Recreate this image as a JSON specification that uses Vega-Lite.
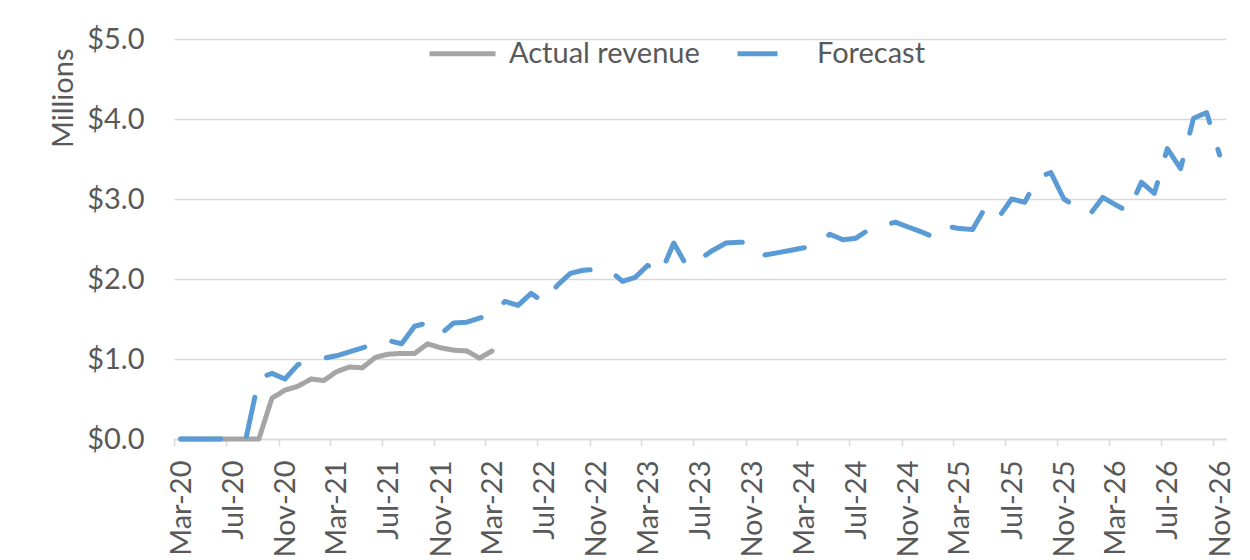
{
  "$schema": "https://vega.github.io/schema/vega-lite/v6.json",
  "width": 1052,
  "height": 400,
  "autosize": {"type": "none"},
  "padding": {"left": 174, "top": 39, "right": 24, "bottom": 121},
  "background": "white",
  "config": {"view": {"stroke": null}, "font": "Lato"},
  "data": {
    "format": {"parse": {"month": "date:'%Y-%m'"}},
    "values": [
      {"month": "2020-03", "Actual revenue": 0, "Forecast": 0},
      {"month": "2020-04", "Actual revenue": 0, "Forecast": 0},
      {"month": "2020-05", "Actual revenue": 0, "Forecast": 0},
      {"month": "2020-06", "Actual revenue": 0, "Forecast": 0},
      {"month": "2020-07", "Actual revenue": 0, "Forecast": 0},
      {"month": "2020-08", "Actual revenue": 0, "Forecast": 0},
      {"month": "2020-09", "Actual revenue": 0, "Forecast": 0.76},
      {"month": "2020-10", "Actual revenue": 0.51, "Forecast": 0.82},
      {"month": "2020-11", "Actual revenue": 0.61, "Forecast": 0.75},
      {"month": "2020-12", "Actual revenue": 0.66, "Forecast": 0.93},
      {"month": "2021-01", "Actual revenue": 0.75, "Forecast": 0.97},
      {"month": "2021-02", "Actual revenue": 0.73, "Forecast": 1.01},
      {"month": "2021-03", "Actual revenue": 0.84, "Forecast": 1.04},
      {"month": "2021-04", "Actual revenue": 0.90, "Forecast": 1.09},
      {"month": "2021-05", "Actual revenue": 0.89, "Forecast": 1.14},
      {"month": "2021-06", "Actual revenue": 1.02, "Forecast": 1.19},
      {"month": "2021-07", "Actual revenue": 1.06, "Forecast": 1.23},
      {"month": "2021-08", "Actual revenue": 1.07, "Forecast": 1.19},
      {"month": "2021-09", "Actual revenue": 1.07, "Forecast": 1.41},
      {"month": "2021-10", "Actual revenue": 1.19, "Forecast": 1.45},
      {"month": "2021-11", "Actual revenue": 1.14, "Forecast": 1.31},
      {"month": "2021-12", "Actual revenue": 1.11, "Forecast": 1.45},
      {"month": "2022-01", "Actual revenue": 1.10, "Forecast": 1.46},
      {"month": "2022-02", "Actual revenue": 1.01, "Forecast": 1.51},
      {"month": "2022-03", "Actual revenue": 1.10, "Forecast": 1.56},
      {"month": "2022-04", "Forecast": 1.72},
      {"month": "2022-05", "Forecast": 1.67},
      {"month": "2022-06", "Forecast": 1.82},
      {"month": "2022-07", "Forecast": 1.71},
      {"month": "2022-08", "Forecast": 1.92},
      {"month": "2022-09", "Forecast": 2.07},
      {"month": "2022-10", "Forecast": 2.11},
      {"month": "2022-11", "Forecast": 2.12},
      {"month": "2022-12", "Forecast": 2.11},
      {"month": "2023-01", "Forecast": 1.97},
      {"month": "2023-02", "Forecast": 2.02},
      {"month": "2023-03", "Forecast": 2.17},
      {"month": "2023-04", "Forecast": 2.07},
      {"month": "2023-05", "Forecast": 2.45},
      {"month": "2023-06", "Forecast": 2.16},
      {"month": "2023-07", "Forecast": 2.25},
      {"month": "2023-08", "Forecast": 2.36},
      {"month": "2023-09", "Forecast": 2.45},
      {"month": "2023-10", "Forecast": 2.46},
      {"month": "2023-11", "Forecast": 2.46},
      {"month": "2023-12", "Forecast": 2.30},
      {"month": "2024-01", "Forecast": 2.33},
      {"month": "2024-02", "Forecast": 2.36},
      {"month": "2024-03", "Forecast": 2.39},
      {"month": "2024-04", "Forecast": 2.43},
      {"month": "2024-05", "Forecast": 2.56},
      {"month": "2024-06", "Forecast": 2.49},
      {"month": "2024-07", "Forecast": 2.51},
      {"month": "2024-08", "Forecast": 2.62},
      {"month": "2024-09", "Forecast": 2.67},
      {"month": "2024-10", "Forecast": 2.71},
      {"month": "2024-11", "Forecast": 2.65},
      {"month": "2024-12", "Forecast": 2.59},
      {"month": "2025-01", "Forecast": 2.52},
      {"month": "2025-02", "Forecast": 2.66},
      {"month": "2025-03", "Forecast": 2.63},
      {"month": "2025-04", "Forecast": 2.62},
      {"month": "2025-05", "Forecast": 2.90},
      {"month": "2025-06", "Forecast": 2.77},
      {"month": "2025-07", "Forecast": 3.00},
      {"month": "2025-08", "Forecast": 2.96},
      {"month": "2025-09", "Forecast": 3.27},
      {"month": "2025-10", "Forecast": 3.33},
      {"month": "2025-11", "Forecast": 3.00},
      {"month": "2025-12", "Forecast": 2.90},
      {"month": "2026-01", "Forecast": 2.81},
      {"month": "2026-02", "Forecast": 3.02},
      {"month": "2026-03", "Forecast": 2.93},
      {"month": "2026-04", "Forecast": 2.84},
      {"month": "2026-05", "Forecast": 3.21},
      {"month": "2026-06", "Forecast": 3.07},
      {"month": "2026-07", "Forecast": 3.63},
      {"month": "2026-08", "Forecast": 3.38},
      {"month": "2026-09", "Forecast": 4.01},
      {"month": "2026-10", "Forecast": 4.08},
      {"month": "2026-11", "Forecast": 3.55}
    ]
  },
  "transform": [
    {"fold": ["Actual revenue", "Forecast"], "as": ["series", "value"]},
    {"filter": "isValid(datum.value)"}
  ],
  "encoding": {
    "x": {
      "field": "month",
      "type": "temporal",
      "timeUnit": "yearmonth",
      "bandPosition": 0.5,
      "title": null,
      "scale": {"domain": [{"year": 2020, "month": 3, "date": 1}, {"year": 2026, "month": 12, "date": 1}]},
      "axis": {
        "values": [
          {"year": 2020, "month": 3, "date": 1}, {"year": 2020, "month": 7, "date": 1}, {"year": 2020, "month": 11, "date": 1},
          {"year": 2021, "month": 3, "date": 1}, {"year": 2021, "month": 7, "date": 1}, {"year": 2021, "month": 11, "date": 1},
          {"year": 2022, "month": 3, "date": 1}, {"year": 2022, "month": 7, "date": 1}, {"year": 2022, "month": 11, "date": 1},
          {"year": 2023, "month": 3, "date": 1}, {"year": 2023, "month": 7, "date": 1}, {"year": 2023, "month": 11, "date": 1},
          {"year": 2024, "month": 3, "date": 1}, {"year": 2024, "month": 7, "date": 1}, {"year": 2024, "month": 11, "date": 1},
          {"year": 2025, "month": 3, "date": 1}, {"year": 2025, "month": 7, "date": 1}, {"year": 2025, "month": 11, "date": 1},
          {"year": 2026, "month": 3, "date": 1}, {"year": 2026, "month": 7, "date": 1}, {"year": 2026, "month": 11, "date": 1}
        ],
        "format": "%b-%y",
        "formatType": "time",
        "labelAngle": -90,
        "labelOffset": 7,
        "labelPadding": 14,
        "labelFont": "Lato",
        "labelFontSize": 29,
        "labelColor": "#595959",
        "labelOverlap": false,
        "labelFlush": false,
        "grid": false,
        "domainColor": "#d9d9d9",
        "domainWidth": 1.5,
        "ticks": true,
        "tickColor": "#d9d9d9",
        "tickWidth": 1.5,
        "tickSize": 7
      }
    },
    "y": {
      "field": "value",
      "type": "quantitative",
      "scale": {"domain": [0, 5], "nice": false, "zero": true},
      "axis": {
        "values": [0, 1, 2, 3, 4, 5],
        "format": "$.1f",
        "title": "Millions",
        "titleFont": "Lato",
        "titleFontSize": 29,
        "titleFontWeight": "normal",
        "titleColor": "#595959",
        "titleAnchor": "end",
        "titleAlign": "right",
        "titleY": 9,
        "titlePadding": 8,
        "labelFont": "Lato",
        "labelFontSize": 29,
        "labelColor": "#595959",
        "labelPadding": 30,
        "domain": false,
        "ticks": false,
        "grid": true,
        "gridColor": "#d9d9d9",
        "gridWidth": 1.5
      }
    },
    "color": {
      "field": "series",
      "type": "nominal",
      "scale": {"domain": ["Actual revenue", "Forecast"], "range": ["#a5a5a5", "#5b9bd5"]},
      "legend": {
        "title": null,
        "orient": "none",
        "legendX": 253,
        "legendY": -21,
        "direction": "horizontal",
        "symbolType": "stroke",
        "symbolSize": 4356,
        "symbolStrokeWidth": 5,
        "labelFont": "Lato",
        "labelFontSize": 29,
        "labelColor": "#595959",
        "labelOffset": 11,
        "labelLimit": 400,
        "columnPadding": 27
      }
    },
    "strokeDash": {
      "field": "series",
      "type": "nominal",
      "scale": {"domain": ["Actual revenue", "Forecast"], "range": [[1, 0], [40, 28]]},
      "legend": null
    }
  },
  "layer": [
    {
      "transform": [{"filter": "datum.series === 'Actual revenue'"}],
      "mark": {"type": "line", "strokeWidth": 5, "strokeCap": "round", "strokeJoin": "round"}
    },
    {
      "transform": [{"filter": "datum.series === 'Forecast'"}],
      "mark": {"type": "line", "strokeWidth": 5, "strokeCap": "round", "strokeJoin": "round"}
    }
  ]
}
